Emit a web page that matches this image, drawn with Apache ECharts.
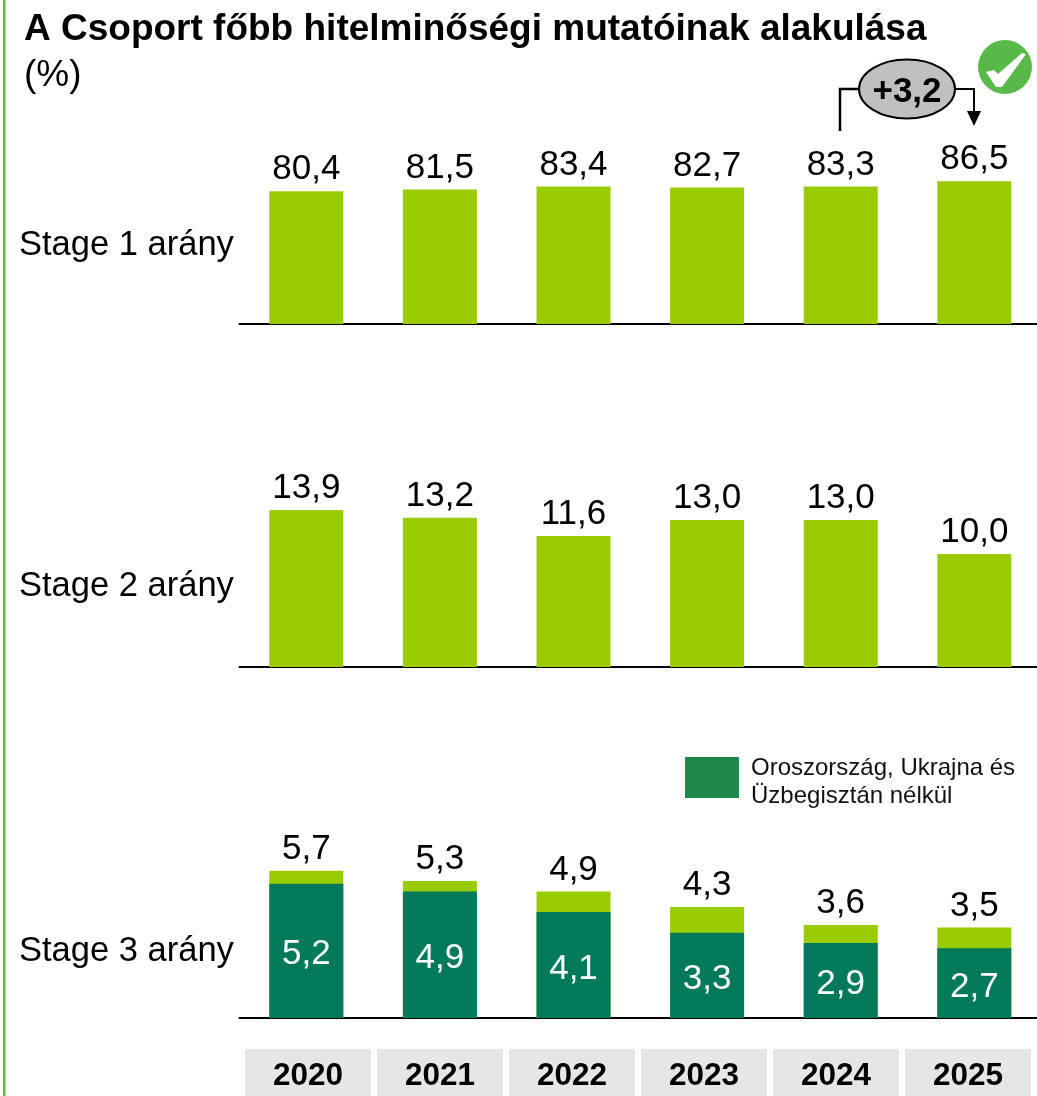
<!DOCTYPE html>
<html><head><meta charset="utf-8">
<style>html,body{margin:0;padding:0;background:#fff}#c{width:1037px;height:1096px}</style>
<script src="https://cdn.jsdelivr.net/npm/echarts@6/dist/echarts.min.js"></script>
</head><body><div id="c"></div>
<script>
var years = ['2020','2021','2022','2023','2024','2025'];
var stage1 = [80.4,81.5,83.4,82.7,83.3,86.5];
var stage2 = [13.9,13.2,11.6,13.0,13.0,10.0];
var stage3Total = [5.7,5.3,4.9,4.3,3.6,3.5];
var stage3Excl = [5.2,4.9,4.1,3.3,2.9,2.7];
var stageLabels = ['Stage 1 arány','Stage 2 arány','Stage 3 arány'];
var titleText = 'A Csoport főbb hitelminőségi mutatóinak alakulása';
var unitText = '(%)';
var legendName = 'Oroszország, Ukrajna és\nÜzbegisztán nélkül';
var deltaText = '+3,2';

var FF = '"Liberation Sans", Arial, sans-serif';
var LIGHT = '#99cc00', DARK = '#007a5a';
var fmt = function (p) { return p.value.toFixed(1).replace('.', ','); };
function grid(top, h) { return { left: 239.5, top: top, width: 801.6, height: h, containLabel: false, outerBoundsMode:'none' }; }
function xa(i) {
  return { type:'category', gridIndex:i, data:years, axisTick:{show:false}, axisLabel:{show:false},
           axisLine:{lineStyle:{color:'#000',width:2}} };
}
function ya(i, max) { return { type:'value', gridIndex:i, min:0, max:max, show:false, splitLine:{show:false} }; }
function bar(i, data, color, name, label, z) {
  return { type:'bar', name:name, xAxisIndex:i, yAxisIndex:i, data:data, barWidth:74, barGap:'-100%',
           itemStyle:{color:color}, z:z||2, label:label, silent:true };
}
var topLabel = { show:true, position:'top', distance:4, formatter:fmt, fontFamily:FF, fontSize:35, color:'#000' };
var inLabel = { show:true, position:'inside', offset:[0,4], formatter:fmt, fontFamily:FF, fontSize:35, color:'#fff' };
function txt(x, y, s, size, weight, extra) {
  return { type:'text', x:x, y:y, z:20, style:Object.assign({ text:s, font:(weight||'normal')+' '+size+'px '+FF, fill:'#000', textVerticalAlign:'middle' }, extra||{}) };
}
var legendRich = { s:{ fontSize:5, lineHeight:10 }, t:{ fontFamily:FF, fontSize:24, lineHeight:28, color:'#111' } };
var option = {
  animation:false, backgroundColor:'#fff',
  grid:[grid(159,165), grid(441,226), grid(863,155), {left:242,top:1017,width:792,height:1,outerBoundsMode:'none'}],
  xAxis:[xa(0),xa(1),xa(2),
    { type:'category', gridIndex:3, data:years, axisTick:{show:false}, axisLine:{show:false},
      axisLabel:{ margin:31, width:126, height:47, lineHeight:54, align:'center', verticalAlign:'top', overflow:'none',
        backgroundColor:'#e6e6e6', fontFamily:FF, fontSize:31.5, fontWeight:'bold', color:'#000', interval:0 } }],
  yAxis:[ya(0,100),ya(1,20),ya(2,6),ya(3,1)],
  legend:{ left:680, top:742, orient:'vertical', itemWidth:54, itemHeight:41, selectedMode:false,
    data:[{ name:legendName, icon:'rect', itemStyle:{color:'#1e874a'} }],
    formatter:function (n) { return '{s| }\n' + n.split('\n').map(function (l) { return '{t|' + l + '}'; }).join('\n'); },
    textStyle:{ fontFamily:FF, fontSize:24, color:'#111', padding:[0,0,0,7], rich:legendRich } },
  series:[
    bar(0,stage1,LIGHT,'Stage 1',topLabel),
    bar(1,stage2,LIGHT,'Stage 2',topLabel),
    bar(2,stage3Total,LIGHT,'Stage 3',topLabel),
    bar(2,stage3Excl,DARK,legendName,inLabel,3)
  ],
  graphic:[
    { type:'rect', z:1, shape:{x:3,y:0,width:2.5,height:1096}, style:{fill:'#5cb946'} },
    txt(24,30,titleText,37,'bold'),
    txt(24,76,unitText,37),
    txt(19,245,stageLabels[0],34.5),
    txt(19,586,stageLabels[1],34.5),
    txt(19,951,stageLabels[2],34.5),
    { type:'polyline', z:10, shape:{points:[[840,131],[840,89],[858,89]]}, style:{stroke:'#000',lineWidth:2.5,fill:null} },
    { type:'polyline', z:10, shape:{points:[[956,89],[974,89],[974,112]]}, style:{stroke:'#000',lineWidth:2,fill:null} },
    { type:'polygon', z:10, shape:{points:[[967,111],[981,111],[974,126]]}, style:{fill:'#000'} },
    { type:'ellipse', z:11, shape:{cx:907,cy:89,rx:48,ry:29.5}, style:{fill:'#c0c0c0',stroke:'#000',lineWidth:2} },
    txt(907,92,deltaText,35,'bold',{textAlign:'center'}),
    { type:'circle', z:11, shape:{cx:1005,cy:67,r:27}, style:{fill:'#56b948'} },
    { type:'polygon', z:12, shape:{points:[[986,72],[994,70],[998,74],[1022,53],[1026,54],[1002,87],[996,87]]}, style:{fill:'#fff'} }
  ]
};
var chart = echarts.init(document.getElementById('c'), null, {renderer:'canvas'});
chart.setOption(option);
</script></body></html>
